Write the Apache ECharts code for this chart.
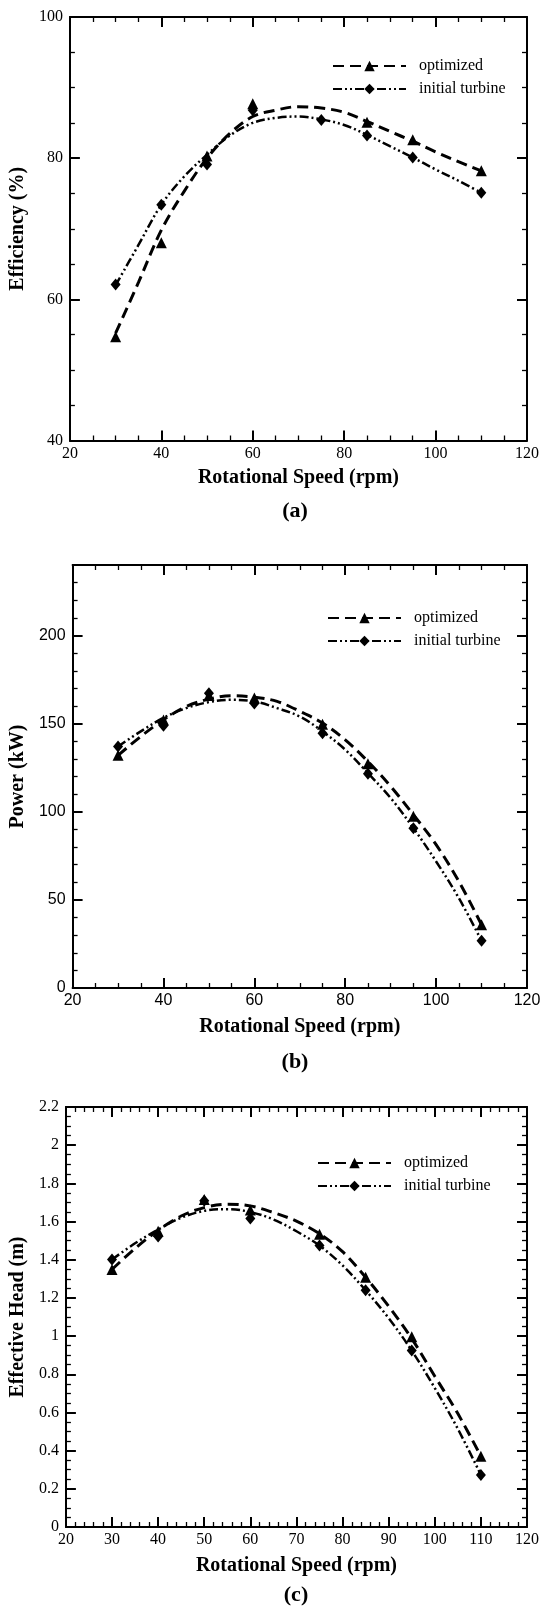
<!DOCTYPE html>
<html>
<head>
<meta charset="utf-8">
<script src="https://cdn.jsdelivr.net/npm/echarts@6/dist/echarts.min.js"></script>
<style>
html,body{margin:0;padding:0;background:#fff;}
#c{width:544px;height:1606px;}
</style>
</head>
<body>
<div id="c"></div>
<script>
// ---------------- DATA ----------------
const speedPts = [30, 40, 50, 60, 75, 85, 95, 110];
const speedFit = [30, 35, 40, 45, 50, 55, 60, 65, 70, 75, 80, 85, 90, 95, 100, 105, 110];

// (a) Efficiency (%)
const effOptPts  = [54.7, 68.0, 80.3, 87.7, null, 85.1, 82.6, 78.2];
const effInitPts = [62.1, 73.4, 79.1, 86.8, 85.4, 83.2, 80.1, 75.1];
const effOptFit  = [55.2, 62.4, 69.8, 75.3, 80.0, 83.5, 85.9, 86.8, 87.3, 87.1, 86.5, 85.2, 83.8, 82.4, 80.9, 79.5, 78.2];
const effInitFit = [62.0, 67.7, 73.4, 77.4, 80.5, 83.2, 85.0, 85.7, 85.9, 85.5, 84.7, 83.3, 81.7, 80.1, 78.4, 76.8, 75.1];

// (b) Power (kW)
const powOptPts  = [132.0, 152.0, 166.0, 164.5, 149.7, 127.2, 97.4, 35.9];
const powInitPts = [137.0, 148.8, 167.3, 161.4, 144.6, 121.6, 90.7, 26.8];
const powOptFit  = [132.0, 142.7, 152.2, 159.7, 163.9, 165.8, 165.0, 162.6, 157.0, 150.3, 140.8, 128.5, 114.4, 98.3, 81.3, 60.5, 35.9];
const powInitFit = [137.0, 145.6, 153.3, 158.8, 162.2, 163.5, 162.6, 158.8, 154.0, 145.6, 135.2, 121.9, 107.8, 90.7, 71.8, 51.0, 26.8];

// (c) Effective Head (m)
const headOptPts  = [1.349, 1.549, 1.715, 1.661, 1.534, 1.308, 0.996, 0.371];
const headInitPts = [1.401, 1.522, 1.709, 1.616, 1.474, 1.240, 0.924, 0.273];
const headOptFit  = [1.349, 1.459, 1.554, 1.629, 1.673, 1.691, 1.682, 1.647, 1.602, 1.536, 1.442, 1.308, 1.156, 0.987, 0.790, 0.594, 0.371];
const headInitFit = [1.401, 1.486, 1.558, 1.620, 1.656, 1.665, 1.650, 1.611, 1.549, 1.474, 1.370, 1.240, 1.094, 0.924, 0.728, 0.514, 0.273];

const seriesNames = ['optimized', 'initial turbine'];
const xTitle = 'Rotational Speed (rpm)';
const yTitles = ['Efficiency (%)', 'Power (kW)', 'Effective Head (m)'];
const panelLabels = ['(a)', '(b)', '(c)'];

// ---------------- STYLE ----------------
const SERIF = '"Liberation Serif", "Times New Roman", serif';
const SANS = '"Liberation Sans", Arial, sans-serif';

const panels = [
  { grid: {left: 63, top: 17, width: 464, height: 423.5},
    x: {min: 20, max: 120, interval: 20, minor: 4},
    y: {min: 40, max: 100, interval: 20, minor: 4},
    labelFont: SERIF, yNameGap: 31,
    legend: {left: 332, top: 58},
    labelTop: 500, xNameGap: 27,
    opt: [effOptPts, effOptFit], init: [effInitPts, effInitFit] },
  { grid: {left: 63, top: 565, width: 464, height: 423},
    x: {min: 20, max: 120, interval: 20, minor: 4},
    y: {min: 0, max: 240, interval: 50, minor: 5, hideMax: true},
    labelFont: SANS, yNameGap: 32,
    legend: {left: 327, top: 610},
    labelTop: 1051, xNameGap: 29,
    opt: [powOptPts, powOptFit], init: [powInitPts, powInitFit] },
  { grid: {left: 65, top: 1107, width: 462, height: 420},
    x: {min: 20, max: 120, interval: 10, minor: 5},
    y: {min: 0, max: 2.2, interval: 0.2, minor: 4},
    labelFont: SERIF, yNameGap: 33,
    legend: {left: 317, top: 1155},
    labelTop: 1584, xNameGap: 29,
    opt: [headOptPts, headOptFit], init: [headInitPts, headInitFit] }
];

const optLine = {color: '#000', width: 3, type: [11, 6], cap: 'butt'};
const initLine = {color: '#000', width: 2.5, type: [9, 3, 2, 3, 2, 3], cap: 'butt'};

function pairs(xs, ys) {
  const out = [];
  for (let i = 0; i < xs.length; i++) if (ys[i] !== null) out.push([xs[i], ys[i]]);
  return out;
}

function axisBase(cfg, gridIndex, position, withLabels, font) {
  return {
    type: 'value', gridIndex: gridIndex, position: position,
    min: cfg.min, max: cfg.max, interval: cfg.interval,
    axisLine: {show: true, onZero: false, lineStyle: {color: '#000', width: 2}},
    axisTick: {show: true, inside: true, length: 10, lineStyle: {color: '#000', width: 2}},
    minorTick: {show: true, splitNumber: cfg.minor, length: 5, lineStyle: {color: '#000', width: 1.3}},
    splitLine: {show: false},
    minorSplitLine: {show: false},
    axisLabel: {show: withLabels, color: '#000', fontFamily: font, fontSize: 16,
                showMaxLabel: cfg.hideMax ? false : null}
  };
}

const option = {
  animation: false,
  backgroundColor: '#fff',
  grid: [], xAxis: [], yAxis: [], series: [], legend: [], title: []
};

panels.forEach((p, i) => {
  option.grid.push(Object.assign({containLabel: false}, p.grid));
  const xb = axisBase(p.x, i, 'bottom', true, p.labelFont);
  xb.axisLabel.margin = 5;
  xb.name = xTitle; xb.nameLocation = 'middle'; xb.nameGap = p.xNameGap;
  xb.nameTextStyle = {color: '#000', fontFamily: SERIF, fontWeight: 'bold', fontSize: 20};
  const xt = axisBase(p.x, i, 'top', false, p.labelFont);
  const yl = axisBase(p.y, i, 'left', true, p.labelFont);
  yl.axisLabel.margin = 7;
  yl.name = yTitles[i]; yl.nameLocation = 'middle'; yl.nameGap = p.yNameGap;
  yl.nameTextStyle = {color: '#000', fontFamily: SERIF, fontWeight: 'bold', fontSize: 20};
  const yr = axisBase(p.y, i, 'right', false, p.labelFont);
  const xi = option.xAxis.length, yi = option.yAxis.length;
  option.xAxis.push(xb, xt);
  option.yAxis.push(yl, yr);

  option.series.push({
    name: seriesNames[0], type: 'line', xAxisIndex: xi, yAxisIndex: yi,
    data: pairs(speedFit, p.opt[1]), smooth: 0.35, showSymbol: false,
    symbol: 'triangle', symbolSize: 11,
    itemStyle: {color: '#000', opacity: 1}, lineStyle: optLine, z: 3
  });
  option.series.push({
    name: seriesNames[1], type: 'line', xAxisIndex: xi, yAxisIndex: yi,
    data: pairs(speedFit, p.init[1]), smooth: 0.35, showSymbol: false,
    symbol: 'diamond', symbolSize: [10, 12],
    itemStyle: {color: '#000', opacity: 1}, lineStyle: initLine, z: 3
  });
  option.series.push({
    name: seriesNames[0] + ' data', type: 'scatter', xAxisIndex: xi, yAxisIndex: yi,
    data: pairs(speedPts, p.opt[0]), symbol: 'triangle', symbolSize: 11,
    itemStyle: {color: '#000', opacity: 1}, z: 4
  });
  option.series.push({
    name: seriesNames[1] + ' data', type: 'scatter', xAxisIndex: xi, yAxisIndex: yi,
    data: pairs(speedPts, p.init[0]), symbol: 'diamond', symbolSize: [10, 12],
    itemStyle: {color: '#000', opacity: 1}, z: 4
  });

  option.legend.push({
    data: seriesNames, orient: 'vertical', left: p.legend.left, top: p.legend.top,
    itemWidth: 73, itemHeight: 13, itemGap: 7, padding: 0, selectedMode: false,
    textStyle: {color: '#000', fontFamily: SERIF, fontSize: 16, padding: [0, 0, 0, 8]}
  });
  option.title.push({
    text: panelLabels[i], left: p.grid.left + p.grid.width / 2, top: p.labelTop,
    textAlign: 'center', padding: 0,
    textStyle: {color: '#000', fontFamily: SERIF, fontWeight: 'bold', fontSize: 22}
  });
});

const chart = echarts.init(document.getElementById('c'), null, {renderer: 'canvas'});
chart.setOption(option);
</script>
</body>
</html>
